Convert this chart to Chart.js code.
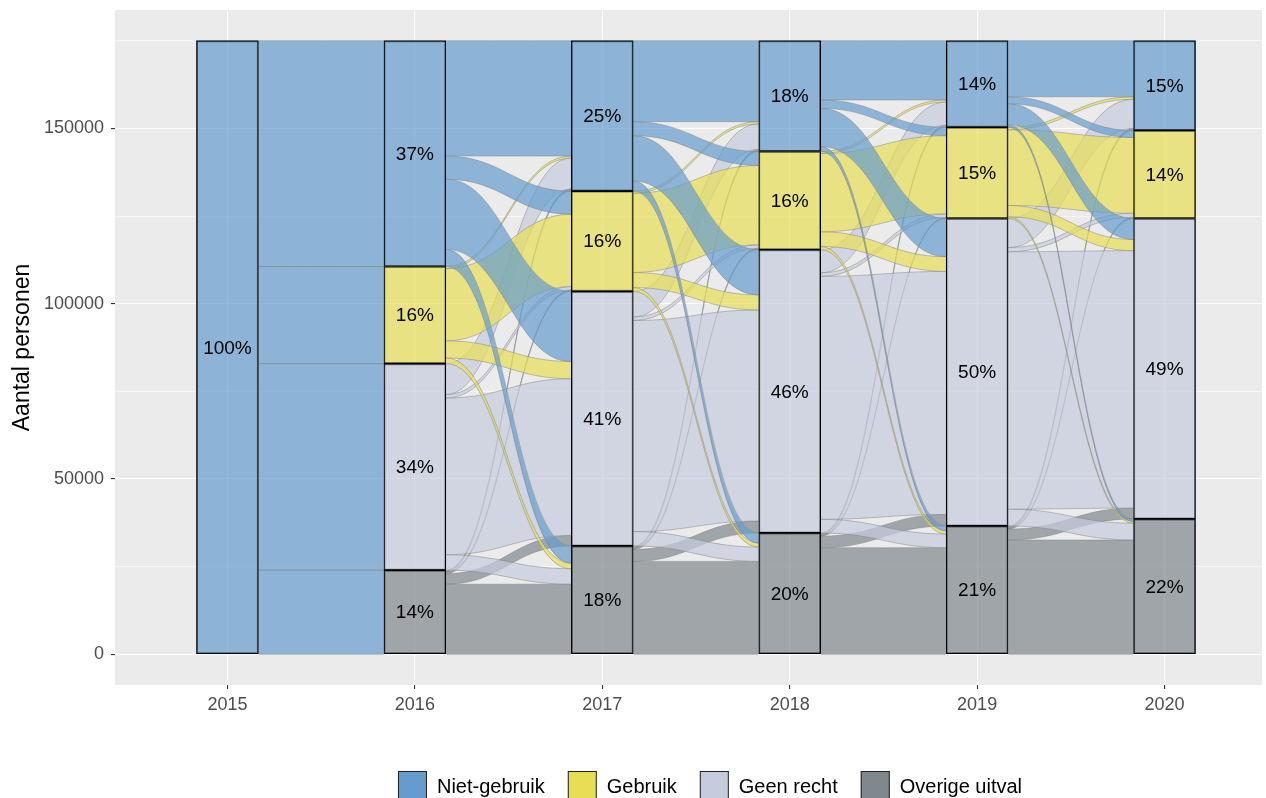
<!DOCTYPE html>
<html>
<head>
<meta charset="utf-8">
<script src="https://cdn.jsdelivr.net/npm/chart.js@4.4.1/dist/chart.umd.min.js"></script>
<style>
  html, body { margin: 0; padding: 0; background: #fff; }
</style>
</head>
<body>
<canvas id="chart" width="1266" height="798"></canvas>
<script>
// alluvial plot: stacked strata per year, ribbons = persons moving between strata

const years = [2015, 2016, 2017, 2018, 2019, 2020];
// bottom -> top, same order used for rows/columns of the flow tables
const strata = ['Overige uitval', 'Geen recht', 'Gebruik', 'Niet-gebruik'];
const legendOrder = ['Niet-gebruik', 'Gebruik', 'Geen recht', 'Overige uitval'];
const colours = {
  'Niet-gebruik': '#659CCD',
  'Gebruik': '#E7DE55',
  'Geen recht': '#C4CCDD',
  'Overige uitval': '#80888E',
};

// persons from stratum (row) to stratum (column): Overige, Geen recht, Gebruik, Niet-gebruik
const flows2015to2016 = [
  [0, 0, 0, 0],
  [0, 0, 0, 0],
  [0, 0, 0, 0],
  [24000, 58900, 27700, 64400],
];
const flows2016to2017 = [
  [20000, 3000, 400, 600],
  [4400, 44700, 1000, 8800],
  [1600, 4900, 20600, 600],
  [4900, 20000, 6600, 32900],
];
const flows2017to2018 = [
  [26500, 3400, 400, 600],
  [4100, 60200, 1000, 7300],
  [1100, 4300, 22600, 600],
  [2900, 12900, 4000, 23100],
];
const flows2018to2019 = [
  [30400, 3300, 300, 600],
  [3900, 69300, 1000, 6600],
  [900, 4200, 22300, 600],
  [1400, 10900, 2400, 16900],
];
const flows2019to2020 = [
  [32600, 3100, 300, 600],
  [4800, 73400, 1200, 8300],
  [500, 3200, 21600, 700],
  [700, 6000, 2000, 16000],
];
const transitions = [flows2015to2016, flows2016to2017, flows2017to2018, flows2018to2019, flows2019to2020];

const yTicks = [0, 25000, 50000, 75000, 100000, 125000, 150000, 175000];

const HALF_W = 1 / 6;  // stratum half width in x units
const ALPHA = 0.7;
const FONT = '"Liberation Sans", Arial, sans-serif';

const rgba = (hex, a) => {
  const n = parseInt(hex.slice(1), 16);
  return `rgba(${n >> 16},${(n >> 8) & 255},${n & 255},${a})`;
};
const sum = arr => arr.reduce((a, b) => a + b, 0);

// stratum sizes per year: outgoing of first table, incoming of the others
const totals = years.map((_, t) => strata.map((_, s) =>
  t === 0 ? sum(transitions[0][s]) : transitions[t - 1].reduce((a, row) => a + row[s], 0)));
const grand = sum(totals[0]);

const bases = totals.map(tot => {
  let acc = 0;
  return tot.map(v => { const b = acc; acc += v; return b; });
});

const datasets = strata.map((name, s) => ({
  label: name,
  data: years.map((yr, t) => ({ x: yr, y: [bases[t][s], bases[t][s] + totals[t][s]] }))
             .filter((d, t) => totals[t][s] > 0),
  backgroundColor: rgba(colours[name], ALPHA),
  borderColor: '#000',
  borderWidth: 1.2,
  borderSkipped: false,
  barThickness: 62,
  grouped: false,
}));

const panelBg = {
  id: 'panelBg',
  beforeDraw(chart) {
    const { ctx, chartArea: a } = chart;
    ctx.save();
    ctx.fillStyle = '#EBEBEB';
    ctx.fillRect(a.left, a.top, a.right - a.left, a.bottom - a.top);
    ctx.restore();
  },
};

const ribbons = {
  id: 'ribbons',
  beforeDatasetsDraw(chart) {
    const { ctx, chartArea: a, scales: { x, y } } = chart;
    ctx.save();
    ctx.beginPath();
    ctx.rect(a.left, a.top, a.right - a.left, a.bottom - a.top);
    ctx.clip();
    transitions.forEach((m, t) => {
      const xa = x.getPixelForValue(years[t] + HALF_W);
      const xb = x.getPixelForValue(years[t + 1] - HALF_W);
      const k = (xb - xa) * 0.45;
      const inOff = [0, 0, 0, 0];
      for (let i = 0; i < 4; i++) {
        let outOff = 0;
        for (let j = 0; j < 4; j++) {
          const v = m[i][j];
          if (!v) continue;
          const a0 = bases[t][i] + outOff, a1 = a0 + v;
          const b0 = bases[t + 1][j] + inOff[j], b1 = b0 + v;
          outOff += v;
          inOff[j] += v;
          const ya0 = y.getPixelForValue(a0), ya1 = y.getPixelForValue(a1);
          const yb0 = y.getPixelForValue(b0), yb1 = y.getPixelForValue(b1);
          ctx.beginPath();
          ctx.moveTo(xa, ya1);
          ctx.bezierCurveTo(xa + k, ya1, xb - k, yb1, xb, yb1);
          ctx.lineTo(xb, yb0);
          ctx.bezierCurveTo(xb - k, yb0, xa + k, ya0, xa, ya0);
          ctx.closePath();
          ctx.fillStyle = rgba(colours[strata[i]], ALPHA);
          ctx.fill();
          ctx.beginPath();
          ctx.moveTo(xa, ya1);
          ctx.bezierCurveTo(xa + k, ya1, xb - k, yb1, xb, yb1);
          ctx.moveTo(xb, yb0);
          ctx.bezierCurveTo(xb - k, yb0, xa + k, ya0, xa, ya0);
          ctx.strokeStyle = 'rgba(130,130,130,0.55)';
          ctx.lineWidth = 0.9;
          ctx.stroke();
        }
      }
    });
    ctx.restore();
  },
};

const pctLabels = {
  id: 'pctLabels',
  afterDatasetsDraw(chart) {
    const { ctx, scales: { x, y } } = chart;
    ctx.save();
    ctx.font = `19px ${FONT}`;
    ctx.fillStyle = '#000';
    ctx.textAlign = 'center';
    ctx.textBaseline = 'middle';
    years.forEach((yr, t) => {
      strata.forEach((_, s) => {
        const v = totals[t][s];
        if (!v) return;
        const mid = bases[t][s] + v / 2;
        ctx.fillText(Math.round(v / grand * 100) + '%', x.getPixelForValue(yr), y.getPixelForValue(mid) + 1);
      });
    });
    ctx.restore();
  },
};

const bottomLegend = {
  id: 'bottomLegend',
  afterDraw(chart) {
    const { ctx } = chart;
    ctx.save();
    ctx.font = `20px ${FONT}`;
    ctx.textBaseline = 'middle';
    const box = 29, gapText = 10, gapItem = 23, top = 771;
    const widths = legendOrder.map(l => ctx.measureText(l).width);
    const total = sum(widths) + legendOrder.length * (box + gapText) + (legendOrder.length - 1) * gapItem;
    let cx = 710 - total / 2;
    legendOrder.forEach((l, i) => {
      ctx.fillStyle = colours[l];
      ctx.fillRect(cx, top, box, box);
      ctx.strokeStyle = '#222';
      ctx.lineWidth = 1;
      ctx.strokeRect(cx + 0.5, top + 0.5, box - 1, box - 1);
      ctx.fillStyle = '#000';
      ctx.fillText(l, cx + box + gapText, top + 16);
      cx += box + gapText + widths[i] + gapItem;
    });
    ctx.restore();
  },
};

new Chart(document.getElementById('chart'), {
  type: 'bar',
  data: { datasets },
  plugins: [panelBg, ribbons, pctLabels, bottomLegend],
  options: {
    responsive: false,
    animation: false,
    devicePixelRatio: 1,
    layout: { padding: { top: 10, right: 4, left: 0, bottom: 0 } },
    plugins: { legend: { display: false }, tooltip: { enabled: false } },
    scales: {
      x: {
        type: 'linear',
        min: 2014.4,
        max: 2020.52,
        offset: false,
        afterBuildTicks: s => { s.ticks = years.map(v => ({ value: v })); },
        afterFit: s => { s.height = 113; s.paddingLeft = 0; s.paddingRight = 0; },
        ticks: { color: '#4D4D4D', font: { size: 18, family: FONT }, padding: 5, maxRotation: 0, callback: v => String(v) },
        grid: { offset: false, color: '#FFFFFF', lineWidth: 1.1, tickColor: '#333', tickLength: 4 },
        border: { display: false },
      },
      y: {
        type: 'linear',
        min: -8750,
        max: 183750,
        afterBuildTicks: s => { s.ticks = yTicks.map(v => ({ value: v })); },
        afterFit: s => { s.width = 115; s.paddingTop = 0; s.paddingBottom = 0; },
        ticks: { color: '#4D4D4D', font: { size: 18, family: FONT }, padding: 7,
                 callback: v => (v % 50000 === 0 && v <= 150000) ? String(v) : '' },
        grid: {
          color: '#FFFFFF',
          lineWidth: c => (c.tick && c.tick.value % 50000 === 0) ? 1.1 : 0.55,
          tickColor: c => (c.tick && c.tick.value % 50000 === 0 && c.tick.value <= 150000) ? '#333' : 'rgba(0,0,0,0)',
          tickLength: 4,
        },
        border: { display: false },
        title: { display: true, text: 'Aantal personen', color: '#000', font: { size: 23, family: FONT }, padding: { top: 9, bottom: 0 } },
      },
    },
  },
});
</script>
</body>
</html>
